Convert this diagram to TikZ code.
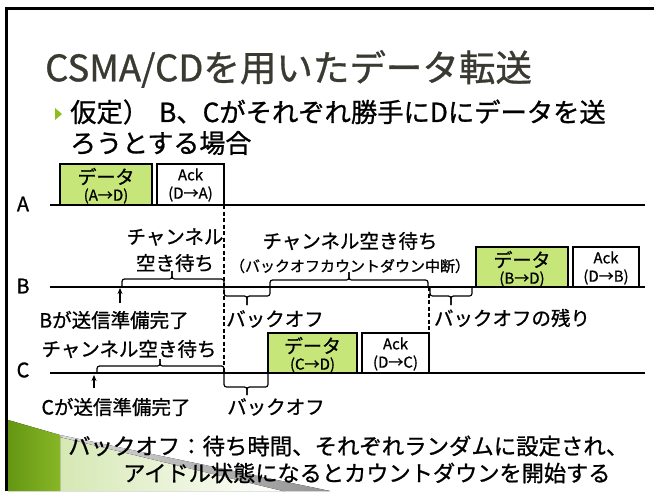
\documentclass[tikz,border=0pt]{standalone}
\usepackage{fontspec}
\setmainfont[FakeBold=0.9]{Noto Sans CJK JP}
\usetikzlibrary{arrows.meta}
\definecolor{datagreen}{RGB}{198,230,122}
\definecolor{titlegray}{RGB}{58,58,50}
\definecolor{bulletgreen}{RGB}{140,190,30}
\definecolor{decogreenA}{RGB}{100,150,18}
\definecolor{decogreenB}{RGB}{135,182,38}
\definecolor{palegreen}{RGB}{214,232,180}
\newcommand\setfs[1]{\fontsize{#1}{#1}\selectfont}
\begin{document}
\begin{tikzpicture}[x=1pt,y=-1pt,
  timeline/.style={line width=1.6pt},
  boxstyle/.style={draw, line width=1.3pt, inner sep=0, outer sep=0, anchor=south west},
  databox/.style={boxstyle, fill=datagreen},
  ackbox/.style={boxstyle, fill=white},
  brace/.style={line width=1.2pt, rounded corners=2.5pt},
  vdash/.style={line width=1.2pt, dash pattern=on 4pt off 2.5pt},
  readyarrow/.style={line width=1.2pt, -{Stealth[length=6pt,width=5pt]}},
  lbl/.style={inner sep=0, font=\setfs{19.5}},
  boxbig/.style={inner sep=0, font=\setfs{19}},
  boxsmall/.style={inner sep=0, font=\setfs{15}},
  acktxt/.style={inner sep=0, font=\setfs{15}},
  linelbl/.style={inner sep=0, font=\setfs{20}}]
\useasboundingbox (0,0) rectangle (654,491);
\fill[white] (0,0) rectangle (654,491);

% decoration bottom-left
\fill[left color=palegreen, right color=white] (60,437) -- (285,491) -- (60,491) -- cycle;
\fill[left color=gray!30, right color=gray!85] (60,435) -- (330,491) -- (283,491) -- (60,437) -- cycle;
\fill[left color=decogreenA, right color=decogreenB] (8,420) -- (60,435) -- (60,491) -- (8,491) -- cycle;

% frame
\draw[line width=2.5pt] (6.5,491) -- (6.5,8.3) -- (654,8.3);

% title and bullet text
\node[anchor=west, inner sep=0, font=\setfs{36.5}, text=titlegray] (title) at (45,69) {CSMA/CDを用いたデータ転送};
\fill[bulletgreen] (55,108) -- (62,114) -- (55,120) -- cycle;
\node[anchor=west, inner sep=0, font=\setfs{26.3}] (body1) at (70,112) {仮定）\hspace{10pt}B、Cがそれぞれ勝手にDにデータを送};
\node[anchor=west, inner sep=0, font=\setfs{26}] (body2) at (70,143) {ろうとする場合};

% station labels
\node[linelbl] (labA) at (23,204) {A};
\node[linelbl] (labB) at (23,286) {B};
\node[linelbl] (labC) at (23,370) {C};

% time lines
\coordinate (A0) at (50,205); \coordinate (A1) at (645,205);
\coordinate (B0) at (50,287); \coordinate (B1) at (645,287);
\coordinate (C0) at (50,373); \coordinate (C1) at (645,373);
\draw[timeline] (A0) -- (A1);
\draw[timeline] (B0) -- (B1);
\draw[timeline] (C0) -- (C1);

% frames on A
\node[databox, minimum width=92pt, minimum height=41pt] (dA) at (60,205) {};
\node[ackbox, minimum width=67pt, minimum height=41pt] (aA) at (157,205) {};
\node[boxbig] (dAt) at ([yshift=-12.5pt]dA.north) {データ};
\node[boxsmall] (dAs) at ([yshift=-32pt]dA.north) {(A→D)};
\node[acktxt] (aAt) at ([yshift=-10.5pt]aA.north) {Ack};
\node[acktxt] (aAs) at ([yshift=-30pt]aA.north) {(D→A)};

% frames on B
\node[databox, minimum width=92pt, minimum height=40pt] (dB) at (476,287) {};
\node[ackbox, minimum width=66pt, minimum height=40pt] (aB) at (573,287) {};
\node[boxbig] (dBt) at ([yshift=-12.5pt]dB.north) {データ};
\node[boxsmall] (dBs) at ([yshift=-32pt]dB.north) {(B→D)};
\node[acktxt] (aBt) at ([yshift=-10.5pt]aB.north) {Ack};
\node[acktxt] (aBs) at ([yshift=-30pt]aB.north) {(D→B)};

% frames on C
\node[databox, minimum width=89pt, minimum height=40pt] (dC) at (268,373) {};
\node[ackbox, minimum width=67pt, minimum height=40pt] (aC) at (362,373) {};
\node[boxbig] (dCt) at ([yshift=-12.5pt]dC.north) {データ};
\node[boxsmall] (dCs) at ([yshift=-32pt]dC.north) {(C→D)};
\node[acktxt] (aCt) at ([yshift=-10.5pt]aC.north) {Ack};
\node[acktxt] (aCs) at ([yshift=-30pt]aC.north) {(D→C)};

% dashed markers
\coordinate (d1end) at (224,373);
\draw[vdash] (aA.south east) -- (d1end);
\coordinate (d2start) at (429,287);
\draw[vdash] (d2start) -- (aC.north east);

% braces on B
\draw[brace] (122,287) |- (172,279) -- (172,271);
\draw[brace] (224,287) |- (172,279) -- (172,271);
\draw[brace] (224,287) |- (247,296) -- (247,305);
\draw[brace] (270,287) |- (247,296) -- (247,305);
\draw[brace] (270,287) |- (349,280) -- (349,272);
\draw[brace] (428,287) |- (349,280) -- (349,272);
\draw[brace] (430,287) |- (451,296) -- (451,305);
\draw[brace] (472,287) |- (451,296) -- (451,305);

% braces on C
\draw[brace] (97,373) |- (160,366) -- (160,359);
\draw[brace] (224,373) |- (160,366) -- (160,359);
\draw[brace] (224,373) |- (247,387) -- (247,395);
\draw[brace] (268,373) |- (247,387) -- (247,395);

% labels B
\node[lbl] (bw1) at (175,237) {チャンネル};
\node[lbl] (bw2) at (175,263) {空き待ち};
\node[lbl] (bready) at (114,320) {Bが送信準備完了};
\node[lbl] (bback) at (275,319) {バックオフ};
\node[lbl] (bw3) at (350,241) {チャンネル空き待ち};
\node[inner sep=0, font=\setfs{15}] (bw4) at (350,266) {（バックオフカウントダウン中断）};
\node[lbl] (brem) at (512,318) {バックオフの残り};

% labels C
\node[lbl] (cw) at (129,349) {チャンネル空き待ち};
\node[lbl] (cready) at (116,407) {Cが送信準備完了};
\node[lbl] (cback) at (276,407) {バックオフ};

% ready arrows
\coordinate (bArrTail) at (120,303); \coordinate (bArrTip) at (120,288);
\draw[readyarrow] (bArrTail) -- (bArrTip);
\coordinate (cArrTail) at (94,388); \coordinate (cArrTip) at (94,375);
\draw[readyarrow] (cArrTail) -- (cArrTip);

% note
\node[anchor=west, inner sep=0, font=\setfs{22.4}] (note1) at (68,446) {バックオフ：待ち時間、それぞれランダムに設定され、};
\node[anchor=west, inner sep=0, font=\setfs{22.2}] (note2) at (123,473) {アイドル状態になるとカウントダウンを開始する};
\end{tikzpicture}
\end{document}
